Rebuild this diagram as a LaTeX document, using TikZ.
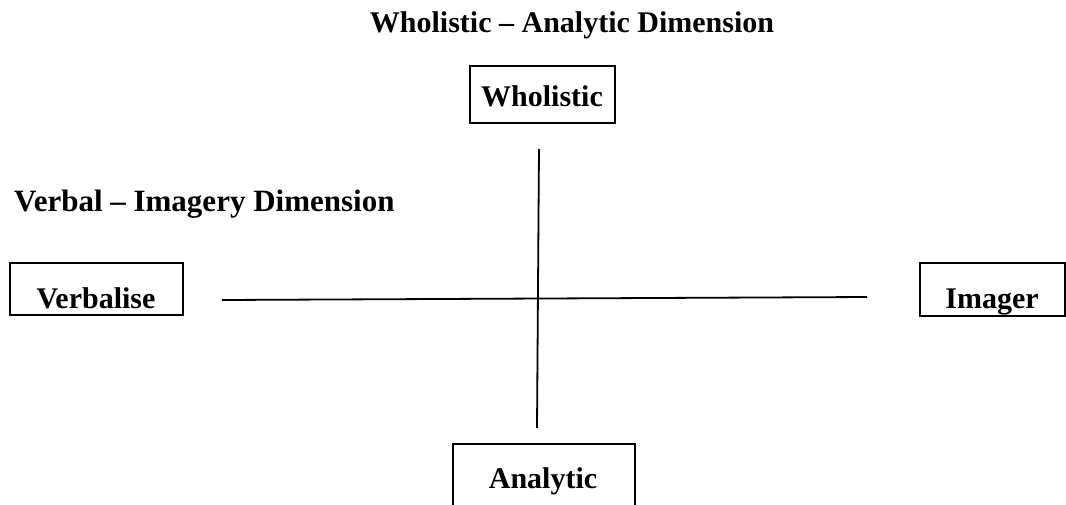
\documentclass[tikz,border=0pt]{standalone}
\usepackage{fontspec}
\setmainfont{Liberation Serif}
\begin{document}
\begin{tikzpicture}[x=1pt,y=-1pt,
  lbl/.style={font=\fontsize{30}{36}\selectfont\bfseries, inner sep=0pt, anchor=base},
  pole/.style={draw, line width=1.5pt, inner sep=0pt, anchor=north west},
  axis/.style={line width=1.8pt}]
  \useasboundingbox (0,0) rectangle (1066,504);
  \clip (0,0) rectangle (1066,504);

  % dimension headings
  \node[lbl] (t1) at (572,32) {Wholistic – Analytic Dimension};
  \node[lbl, anchor=base west, font=\fontsize{31}{37}\selectfont\bfseries] (t2) at (14,211) {Verbal – Imagery Dimension};

  % pole boxes
  \node[pole, minimum width=145pt, minimum height=57pt] (bw) at (469,65) {};
  \node[pole, minimum width=173pt, minimum height=52pt] (bv) at (9,262) {};
  \node[pole, minimum width=145pt, minimum height=53pt] (bi) at (919,262) {};
  \node[pole, minimum width=182pt, minimum height=70pt] (ba) at (452,443) {};

  % pole labels
  \node[lbl] (w) at (542,106) {Wholistic};
  \node[lbl] (v) at (96,308) {Verbalise};
  \node[lbl] (i) at (992,308) {Imager};
  \node[lbl] (a) at (543,488) {Analytic};

  % axes
  \coordinate (hl) at (222,300);
  \coordinate (hr) at (867,297);
  \coordinate (vt) at (539,149);
  \coordinate (vb) at (537,428);
  \draw[axis] (hl) -- (hr);
  \draw[axis] (vt) -- (vb);
\end{tikzpicture}
\end{document}
